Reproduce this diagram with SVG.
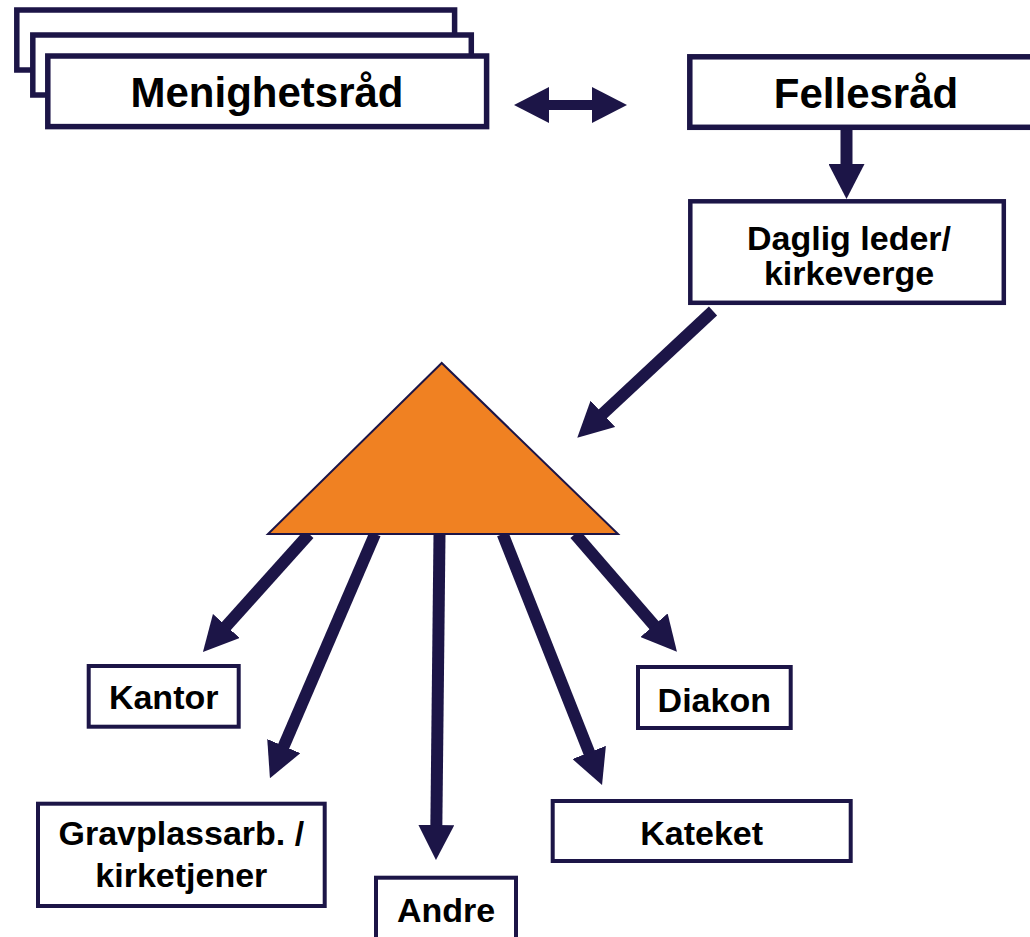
<svg xmlns="http://www.w3.org/2000/svg" width="1030" height="937" viewBox="0 0 1030 937">
<style>
.box{fill:#fff;stroke:#1c1547;stroke-width:4}
.big{fill:#fff;stroke:#1c1547;stroke-width:5.5}
.t{font-family:"Liberation Sans",Arial,sans-serif;font-weight:bold;fill:#000;text-anchor:middle}
.t42{font-size:42px}
.t34{font-size:34px}
.c{fill:none;stroke:#1c1547;stroke-width:12;marker-end:url(#ah)}
</style>
<defs>
<marker id="ah" viewBox="0 0 35 36" refX="5" refY="18" markerWidth="35" markerHeight="36" markerUnits="userSpaceOnUse" orient="auto-start-reverse">
<path d="M0,0 L35,18 L0,36 Z" fill="#1c1547"/>
</marker>
</defs>
<rect width="1030" height="937" fill="#fff"/>
<g id="connectors">
<line x1="544" y1="105" x2="597" y2="105" stroke="#1c1547" stroke-width="10" marker-start="url(#ah)" marker-end="url(#ah)"/>
<line class="c" x1="846.5" y1="130" x2="846.5" y2="169" stroke-width="13"/>
<line class="c" x1="713" y1="311" x2="599.2" y2="417.2"/>
<line class="c" x1="309" y1="534" x2="223" y2="629.7"/>
<line class="c" x1="375" y1="534" x2="281.8" y2="750.7"/>
<line class="c" x1="439.5" y1="534" x2="436.3" y2="830"/>
<line class="c" x1="502.7" y1="534" x2="591" y2="757.1"/>
<line class="c" x1="575" y1="534" x2="657.3" y2="629"/>
</g>
<g id="menighetsrad">
<rect class="big" x="16.8" y="10" width="437.8" height="60"/>
<rect class="big" x="32.8" y="35" width="438.5" height="60"/>
<rect class="big" x="47.8" y="56" width="438.8" height="70.6"/>
<text class="t t42" x="267" y="107">Menighetsråd</text>
</g>
<g id="fellesrad">
<rect class="big" x="689.8" y="56.8" width="400" height="70.5"/>
<text class="t t42" x="866" y="108">Fellesråd</text>
</g>
<g id="daglig">
<rect class="box" x="690.3" y="201.3" width="313.5" height="101.5" style="stroke-width:4.5"/>
<text class="t t34" x="849" y="250">Daglig leder/</text>
<text class="t t34" x="849" y="285">kirkeverge</text>
</g>
<g id="triangle">
<polygon points="441.7,363 268,534 618,534" fill="#f08122" stroke="#1c1547" stroke-width="2"/>
</g>
<g id="kantor">
<rect class="box" x="88.7" y="666" width="150" height="60.7"/>
<text class="t t34" x="163.7" y="709">Kantor</text>
</g>
<g id="diakon">
<rect class="box" x="638" y="667" width="152.7" height="61"/>
<text class="t t34" x="714.3" y="711.5">Diakon</text>
</g>
<g id="gravplass">
<rect class="box" x="38" y="803.7" width="286.7" height="102.3"/>
<text class="t t34" x="181.3" y="845">Gravplassarb. /</text>
<text class="t t34" x="181.3" y="887">kirketjener</text>
</g>
<g id="kateket">
<rect class="box" x="552.7" y="801" width="298" height="60"/>
<text class="t t34" x="701.7" y="845">Kateket</text>
</g>
<g id="andre">
<rect class="box" x="376" y="877.7" width="140" height="70"/>
<text class="t t34" x="446" y="921.5">Andre</text>
</g>
</svg>
